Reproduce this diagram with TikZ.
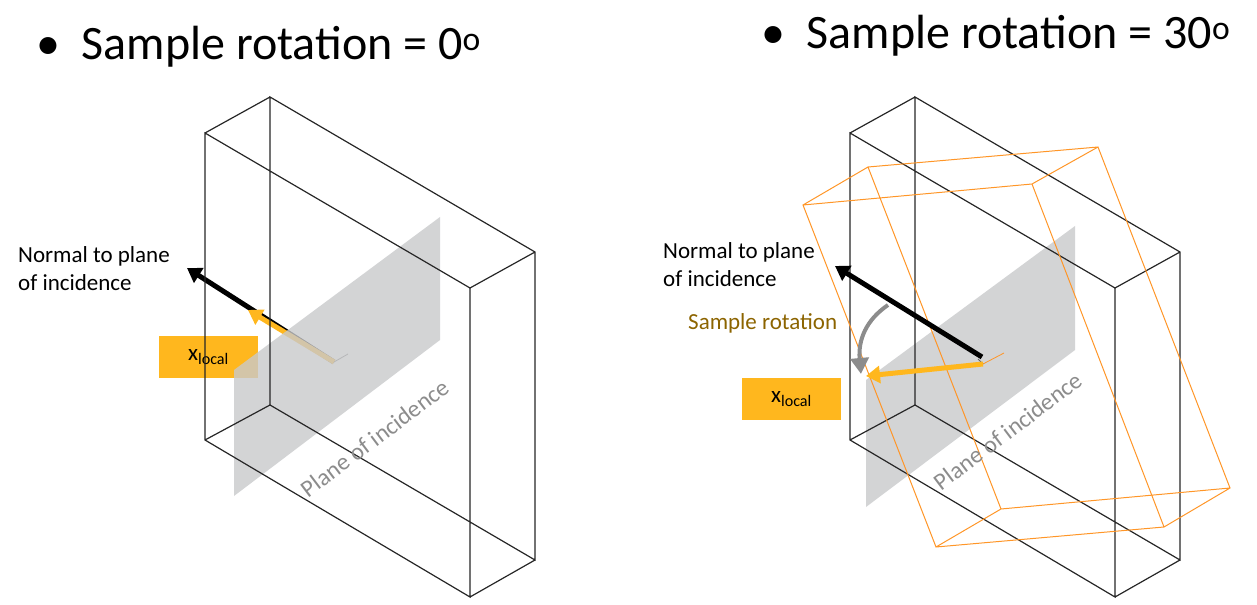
\documentclass[tikz,border=0pt]{standalone}
\usepackage{fontspec}
\setmainfont{Carlito}
\usetikzlibrary{arrows.meta}
\definecolor{xorange}{RGB}{255,183,30}
\definecolor{wire}{RGB}{255,150,40}
\definecolor{plane}{RGB}{200,201,203}
\definecolor{brownt}{RGB}{140,100,0}
\tikzset{
  edge/.style={black!85,line width=1.2bp},
  oedge/.style={wire,line width=1bp},
  planefill/.style={fill=plane,draw=none,opacity=0.8},
  xbox/.style={fill=xorange,minimum width=99bp,minimum height=42bp,inner sep=0pt,font=\fontsize{23bp}{25bp}\selectfont},
  lbl/.style={align=left,anchor=north west,inner sep=0pt,font=\fontsize{23bp}{28bp}\selectfont},
  ttl/.style={anchor=west,inner sep=0pt,font=\fontsize{48bp}{50bp}\selectfont},
  ptxt/.style={text=black!45,rotate=37,font=\fontsize{24bp}{25bp}\selectfont},
  bigarrow/.style={line width=5bp,-{Triangle[length=14bp,width=17bp]}},
}
\begin{document}
\begin{tikzpicture}[x=1bp,y=-1bp]
\useasboundingbox (0,0) rectangle (1257,605);
% titles
\node[ttl] (t1) at (36,47) {\textbullet\ \ Sample rotation = 0\textsuperscript{o}};
\node[ttl] (t2) at (761,36) {\textbullet\ \ Sample rotation = 30\textsuperscript{o}};
%% LEFT
\foreach \n/\x/\y in {a/205/133,b/470/288,c/470/597,d/205/440,e/270/97,f/535/252,g/535/560,h/270/405}
  \coordinate (L\n) at (\x,\y);
\node[xbox] (xl1) at (208.5,357) {x\textsubscript{local}};
\coordinate (o1) at (334,362);
\coordinate (n1) at (187,268);
\coordinate (x1) at (248,310);
\draw[black!60,line width=0.8bp] (o1)--++(14,-8) (o1)--++(-5,-5);
\draw[bigarrow,black] (o1) -- (n1);
\draw[bigarrow,xorange] (o1) -- (x1);
\fill[planefill] (234,370)--(440,217)--(440,340)--(234,496)--cycle;
\draw[edge] (La)--(Lb)--(Lc)--(Ld)--cycle (Le)--(Lf)--(Lg)--(Lh)--cycle
  (La)--(Le) (Lb)--(Lf) (Lc)--(Lg) (Ld)--(Lh);
\node[ptxt] (p1) at (375,438) {Plane of incidence};
\node[lbl] (nl1) at (18,246) {Normal to plane\\of incidence};
%% RIGHT
\foreach \n/\x/\y in {a/850/133,b/1115/288,c/1115/597,d/850/440,e/915/97,f/1180/252,g/1180/560,h/915/405}
  \coordinate (R\n) at (\x,\y);
\fill[planefill] (866,380)--(1075,226)--(1075,350)--(866,507)--cycle;
\draw[edge] (Ra)--(Rb)--(Rc)--(Rd)--cycle (Re)--(Rf)--(Rg)--(Rh)--cycle
  (Ra)--(Re) (Rb)--(Rf) (Rc)--(Rg) (Rd)--(Rh);
\foreach \n/\x/\y in {A/803/205,B/868/167,C/1098/147,D/1032/184,E/1230/488,F/1164/527,G/936/547,H/1001/509}
  \coordinate (O\n) at (\x,\y);
\draw[oedge] (OA)--(OD)--(OF)--(OG)--cycle (OB)--(OC)--(OE)--(OH)--cycle
  (OA)--(OB) (OD)--(OC) (OF)--(OE) (OG)--(OH);
\node[ptxt] (p2) at (1008,431) {Plane of incidence};
\coordinate (o2) at (983,364);
\coordinate (n2) at (835,266);
\coordinate (x2) at (866,376);
\draw[wire,line width=0.8bp] (o2)--(1004,353);
\draw[black!60,line width=0.8bp] (o2)--++(-5,-5);
\draw[bigarrow,black] (982,357) -- (n2);
\draw[bigarrow,xorange] (o2) -- (x2);
\draw[black!45,line width=4bp,-{Triangle[length=16bp,width=18bp]}] (888,305) .. controls (866,320) and (858,340) .. (861,374);
\node[xbox] (xl2) at (791.5,399) {x\textsubscript{local}};
\node[lbl] (nl2) at (663,242) {Normal to plane\\of incidence};
\node[lbl,text=brownt,anchor=west] (sr) at (688,323) {Sample rotation};
\end{tikzpicture}
\end{document}
